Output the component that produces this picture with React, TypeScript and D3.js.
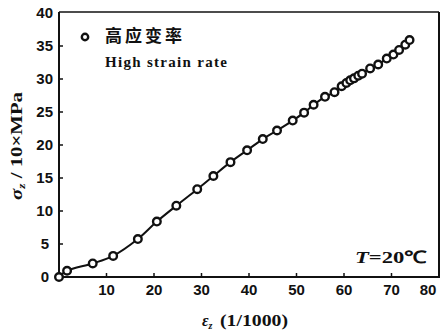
import React from "react";
import * as d3 from "d3";

const strain = [0, 1.7, 7.1, 11.4, 16.6, 20.6, 24.7, 29.1, 32.5, 36.1, 39.6, 42.9, 45.9, 49.2, 51.6, 53.6, 56.0, 58.0, 59.5, 60.5, 61.3, 62.1, 63.0, 63.8, 65.5, 67.2, 69.0, 70.4, 71.6, 72.9, 73.8];
const stress = [0, 0.95, 2.05, 3.2, 5.75, 8.4, 10.8, 13.3, 15.3, 17.4, 19.2, 20.9, 22.2, 23.7, 24.9, 26.1, 27.3, 28.0, 28.9, 29.4, 29.8, 30.1, 30.5, 30.8, 31.6, 32.2, 33.1, 33.7, 34.4, 35.2, 35.9];
const xTicks = [10, 20, 30, 40, 50, 60, 70, 80];
const yTicks = [0, 5, 10, 15, 20, 25, 30, 35, 40];
const legendCn = "高应变率";
const legendEn = "High strain rate";
const tempLabel = "20℃";

const W = 441, H = 334;
const L = 59, R = 439, T = 13, B = 277;

export default function App() {
  const x = d3.scaleLinear().domain([0, 80]).range([L, R]);
  const y = d3.scaleLinear().domain([0, 40]).range([B, T]);
  const pts = strain.map((e, i) => [e, stress[i]] as [number, number]);
  const line = d3.line<[number, number]>().x(d => x(d[0])).y(d => y(d[1])).curve(d3.curveCatmullRom);
  const numFont = "'Liberation Sans', Arial, sans-serif";
  const serif = "'Liberation Serif', serif";
  return (
    <div style={{ position: "fixed", left: 0, top: 0 }}>
      <svg width={W} height={H} style={{ display: "block", background: "#fff" }}>
        {/* frame */}
        <line x1={L} y1={T - 1} x2={R} y2={T - 1} stroke="#111" strokeWidth={1.5} />
        <line x1={R} y1={T - 1} x2={R} y2={B} stroke="#111" strokeWidth={2} />
        <line x1={L} y1={T - 1} x2={L} y2={B + 1} stroke="#111" strokeWidth={2} />
        <line x1={L - 1} y1={B} x2={R + 1} y2={B} stroke="#111" strokeWidth={2} />
        {/* y ticks */}
        {yTicks.map(t => (
          <g key={"y" + t}>
            {t > 0 && t < 40 && <line x1={L} x2={L + 4} y1={y(t)} y2={y(t)} stroke="#111" strokeWidth={1.5} />}
            <text x={t < 10 ? L - 10 : L - 6} y={y(t)} dy="0.36em" textAnchor="end" fontFamily={numFont} fontWeight="bold" fontSize={15} fill="#111">{t}</text>
          </g>
        ))}
        {/* x ticks */}
        {xTicks.map(t => {
          const tx = Math.min(x(t), W - 4 - 9);
          return (
            <g key={"x" + t}>
              {t < 80 && <line x1={x(t)} x2={x(t)} y1={B} y2={B - 4} stroke="#111" strokeWidth={1.5} />}
              <text x={tx} y={B + 18} textAnchor="middle" fontFamily={numFont} fontWeight="bold" fontSize={15} fill="#111">{t}</text>
            </g>
          );
        })}
        {/* curve */}
        <path d={line(pts) || ""} fill="none" stroke="#111" strokeWidth={2} />
        {pts.map((p, i) => (
          <circle key={i} cx={x(p[0])} cy={y(p[1])} r={3.8} fill="#fff" stroke="#111" strokeWidth={2.4} />
        ))}
        {/* legend */}
        <circle cx={85} cy={37} r={3.2} fill="#fff" stroke="#111" strokeWidth={2.4} />
        <text x={105} y={42} fontFamily="'Noto Sans CJK SC', sans-serif" fontWeight="bold" fontSize={17} textLength={77} fill="#111">{legendCn}</text>
        <text x={105} y={67} fontFamily={serif} fontWeight="bold" fontSize={15} textLength={122} fill="#111">{legendEn}</text>
        {/* temperature */}
        <text x={355} y={263} fontFamily={serif} fontWeight="bold" fontSize={17} textLength={72} lengthAdjust="spacingAndGlyphs" fill="#111">
          <tspan fontStyle="italic">T</tspan><tspan>=</tspan><tspan>{tempLabel}</tspan>
        </text>
        {/* x title */}
        <text x={202} y={326} fontFamily={serif} fontWeight="bold" fontSize={16} fill="#111">
          <tspan fontStyle="italic">ε</tspan><tspan fontStyle="italic" fontSize={10} dy={3}>z</tspan>
        </text>
        <text x={220} y={326} fontFamily={serif} fontWeight="bold" fontSize={16} textLength={68} lengthAdjust="spacingAndGlyphs" fill="#111">(1/1000)</text>
        {/* y title */}
        <text transform="translate(22,200) rotate(-90)" textAnchor="start" fontFamily={serif} fontWeight="bold" fontSize={17} textLength={108} lengthAdjust="spacingAndGlyphs" fill="#111">
          <tspan fontStyle="italic">σ</tspan><tspan fontStyle="italic" fontSize={11} dy={3}>z</tspan><tspan dy={-3}> / 10×MPa</tspan>
        </text>
      </svg>
    </div>
  );
}
